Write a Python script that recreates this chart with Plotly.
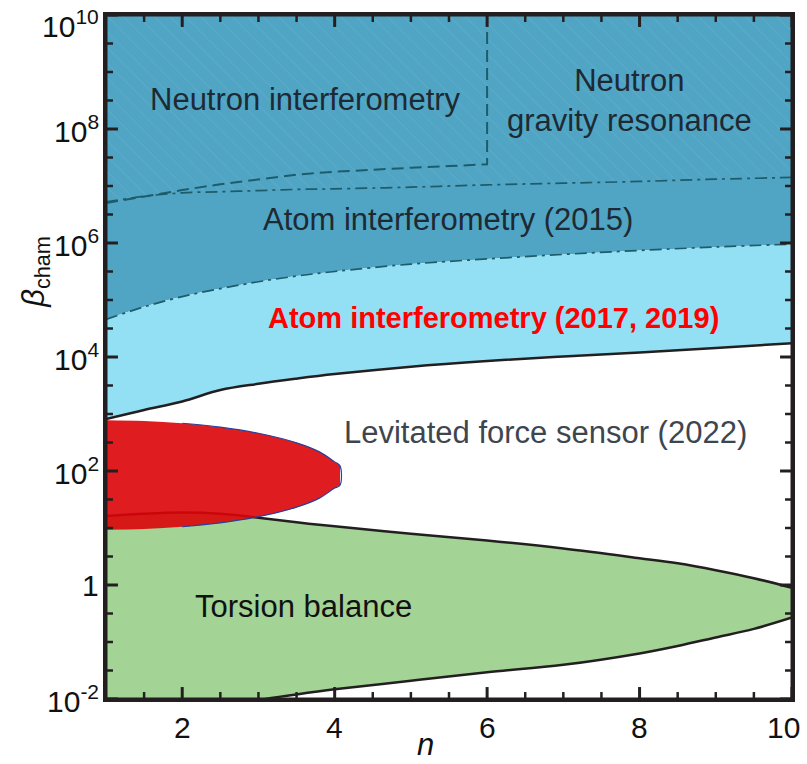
import plotly.graph_objects as go
import numpy as np

# ---- data (beta values given as log10 exponents) ----
n_grid = [1, 1.5, 2, 2.5, 3, 3.5, 4, 5, 6, 7, 8, 9, 10]

# Atom interferometry (2017, 2019): lower solid bound and upper dash-dot bound
atom17_lower_log10 = [2.91, 3.07, 3.22, 3.42, 3.53, 3.62, 3.70, 3.83, 3.93, 4.01, 4.08, 4.16, 4.24]
atom17_upper_log10 = [4.66, 4.88, 5.06, 5.20, 5.32, 5.42, 5.50, 5.63, 5.72, 5.80, 5.87, 5.93, 5.98]
# Atom interferometry (2015): upper dash-dot bound
atom15_upper_log10 = [6.72, 6.82, 6.88, 6.90, 6.92, 6.94, 6.95, 6.98, 7.02, 7.05, 7.08, 7.12, 7.15]

# Neutron interferometry dashed bound (ends at n = 6, then vertical)
neutron_n = [1, 1.5, 2, 2.5, 3, 3.5, 4, 4.5, 5, 5.5, 6]
neutron_log10 = [6.70, 6.82, 6.93, 7.03, 7.12, 7.20, 7.25, 7.29, 7.32, 7.35, 7.38]

# Torsion balance region
torsion_top_n = [1, 1.5, 2, 2.5, 3, 3.5, 4, 5, 6, 7, 8, 8.5, 9, 9.5, 10]
torsion_top_log10 = [1.21, 1.25, 1.27, 1.25, 1.18, 1.10, 1.03, 0.90, 0.78, 0.64, 0.47, 0.38, 0.26, 0.12, -0.05]
torsion_bot_n = [1, 2, 3, 3.5, 4, 5, 6, 7, 8, 8.5, 9, 9.5, 10]
torsion_bot_log10 = [-2.6, -2.3, -2.02, -1.92, -1.83, -1.68, -1.53, -1.40, -1.20, -1.07, -0.92, -0.77, -0.57]

# Levitated force sensor (2022) excluded region
lev_n = [1, 1.5, 2, 2.5, 3, 3.5, 3.8, 4.0, 4.07]
lev_top_log10 = [2.89, 2.877, 2.838, 2.769, 2.662, 2.494, 2.336, 2.16, 2.09]
lev_bot_log10 = [0.97, 0.983, 1.022, 1.091, 1.198, 1.366, 1.524, 1.70, 1.75]

BETA_MIN_LOG10 = -2
BETA_MAX_LOG10 = 10
N_MIN, N_MAX = 1, 10

# ticks and tick labels
y_major_exp = [-2, 0, 2, 4, 6, 8, 10]
y_major_text = ["10<sup>-2</sup>", "1", "10<sup>2</sup>", "10<sup>4</sup>",
                "10<sup>6</sup>", "10<sup>8</sup>", "10<sup>10</sup>"]
y_minor_exp = [-1.5, -1, -0.5, 0.5, 1, 1.5, 2.5, 3, 3.5, 4.5, 5, 5.5,
               6.5, 7, 7.5, 8.5, 9, 9.5]
x_major = [2, 4, 6, 8, 10]
x_major_text = ["2", "4", "6", "8", "10"]
x_minor = [1.5, 2.5, 3, 3.5, 4.5, 5, 5.5, 6.5, 7, 7.5, 8.5, 9, 9.5]

# ---- styles ----
W, H = 807, 764
MARGIN = dict(l=106, r=12, t=12, b=65)
PLOT_W = W - MARGIN["l"] - MARGIN["r"]
PLOT_H = H - MARGIN["t"] - MARGIN["b"]
C_DARK = "#51a5c4"
C_LIGHT = "#93e0f5"
C_GREEN = "#a3d395"
C_RED = "rgba(220,4,8,0.9)"
C_DASH = "#1d5c6b"
C_EDGE = "#231f20"
C_TICKTEXT = "#111111"
FONT = "Liberation Sans, Arial, sans-serif"
MAJOR_LEN, MINOR_LEN = 12, 7   # tick lengths in pixels


def b(vals):
    return list(np.power(10.0, vals))


top_line = b([BETA_MAX_LOG10] * len(n_grid))

fig = go.Figure()


def add(x, y, **kw):
    kw.setdefault("mode", "lines")
    kw.setdefault("hoverinfo", "skip")
    kw.setdefault("showlegend", False)
    fig.add_trace(go.Scatter(x=x, y=y, **kw))


# dark-blue excluded region (atom 2015 + neutron)
add(n_grid, b(atom17_upper_log10), line=dict(width=0, shape="spline"))
add(n_grid, top_line, line=dict(width=0, shape="spline"), fill="tonexty", fillcolor=C_DARK)

# light-blue region (atom interferometry 2017, 2019)
add(n_grid, b(atom17_lower_log10), line=dict(width=0, shape="spline"))
add(n_grid, b(atom17_upper_log10), line=dict(width=0, shape="spline"), fill="tonexty", fillcolor=C_LIGHT)

# green region (torsion balance)
add(torsion_bot_n, b(torsion_bot_log10), line=dict(width=0, shape="spline"))
add(torsion_top_n, b(torsion_top_log10), line=dict(width=0, shape="spline"), fill="tonexty", fillcolor=C_GREEN)

# hatched neutron band
add(n_grid, b(atom15_upper_log10), line=dict(width=0, shape="spline"))
add(n_grid, top_line, line=dict(width=0, shape="spline"), fill="tonexty",
    fillcolor="rgba(0,0,0,0)",
    fillpattern=dict(shape="\\", fgcolor="rgba(200,232,242,0.35)", bgcolor="rgba(0,0,0,0)",
                     size=11, solidity=0.06, fillmode="overlay"))

# boundary lines
add(n_grid, b(atom17_lower_log10), line=dict(color=C_EDGE, width=2.5, shape="spline"))
add(torsion_top_n, b(torsion_top_log10), line=dict(color=C_EDGE, width=2.5, shape="spline"))
add(torsion_bot_n, b(torsion_bot_log10), line=dict(color=C_EDGE, width=2.5, shape="spline"))
add(n_grid, b(atom17_upper_log10), line=dict(color=C_DASH, width=1.7, shape="spline", dash="12px,5px,3px,5px"))
add(n_grid, b(atom15_upper_log10), line=dict(color=C_DASH, width=1.7, shape="spline", dash="12px,5px,3px,5px"))
add(neutron_n + [neutron_n[-1]], b(neutron_log10 + [BETA_MAX_LOG10]),
    line=dict(color=C_DASH, width=2, shape="linear", dash="12px,6px"))

# levitated force sensor region
add(lev_n, b(lev_bot_log10), line=dict(width=0, shape="spline"))
add(lev_n, b(lev_top_log10), line=dict(width=0, shape="spline"), fill="tonexty", fillcolor=C_RED)
arc_n = lev_n[2:] + lev_n[2:][::-1]
arc_y = lev_top_log10[2:] + lev_bot_log10[2:][::-1]
add(arc_n, b(arc_y), line=dict(color="#2a3f9a", width=1.2, shape="spline"))

# ---- inward ticks on all four sides, drawn as a trace on top ----
n_per_px = (N_MAX - N_MIN) / PLOT_W
dec_per_px = (BETA_MAX_LOG10 - BETA_MIN_LOG10) / PLOT_H


def tick_segments(length_px, xs, ys_exp):
    tx, ty = [], []
    dx = length_px * n_per_px
    de = length_px * dec_per_px
    for v in xs:
        tx += [v, v, None, v, v, None]
        ty += [10 ** BETA_MIN_LOG10, 10 ** (BETA_MIN_LOG10 + de), None,
               10 ** BETA_MAX_LOG10, 10 ** (BETA_MAX_LOG10 - de), None]
    for e in ys_exp:
        tx += [N_MIN, N_MIN + dx, None, N_MAX, N_MAX - dx, None]
        ty += [10 ** e, 10 ** e, None, 10 ** e, 10 ** e, None]
    return tx, ty


mx, my = tick_segments(MAJOR_LEN, x_major, y_major_exp)
add(mx, my, line=dict(color=C_EDGE, width=3), connectgaps=False)
nx, ny = tick_segments(MINOR_LEN, x_minor, y_minor_exp)
add(nx, ny, line=dict(color=C_EDGE, width=2.5), connectgaps=False)

# plot frame
add([N_MIN, N_MAX, N_MAX, N_MIN, N_MIN],
    b([BETA_MIN_LOG10, BETA_MIN_LOG10, BETA_MAX_LOG10, BETA_MAX_LOG10, BETA_MIN_LOG10]),
    line=dict(color=C_EDGE, width=3))

# ---- tick labels (edge labels nudged inside the canvas) ----
for e, txt in zip(y_major_exp, y_major_text):
    fig.add_annotation(x=0, xref="paper", y=e, yref="y", text=txt, showarrow=False,
                       xanchor="right", yanchor="middle", xshift=-5,
                       yshift=-9 if e == BETA_MAX_LOG10 else 0,
                       font=dict(family=FONT, size=30, color=C_TICKTEXT))
for v, txt in zip(x_major, x_major_text):
    fig.add_annotation(x=v, xref="x", y=0, yref="paper", text=txt, showarrow=False,
                       xanchor="center", yanchor="middle", yshift=-28,
                       xshift=-9 if v == N_MAX else 0,
                       font=dict(family=FONT, size=30, color=C_TICKTEXT))


# ---- region labels ----
def label(text, x, ylog, size=31, color="#222222"):
    fig.add_annotation(x=x, y=ylog, xref="x", yref="y", text=text, showarrow=False,
                       font=dict(family=FONT, size=size, color=color),
                       xanchor="center", yanchor="middle")


label("Neutron interferometry", 3.62, 8.52, color="#1e2a33")
label("Neutron<br>gravity resonance", 7.87, 8.50, color="#1e2a33")
label("Atom interferometry (2015)", 5.49, 6.42, color="#1e2a33")
label("<b>Atom interferometry (2017, 2019)</b>", 6.08, 4.69, size=29, color="#ff0000")
label("Levitated force sensor (2022)", 6.77, 2.68, color="#3d4650")
label("Torsion balance", 3.59, -0.38, color="#111111")

fig.add_annotation(x=-0.103, y=0.625, xref="paper", yref="paper",
                   text="<i>β</i><sub>cham</sub>", showarrow=False, textangle=-90,
                   font=dict(family=FONT, size=31, color="#111111"),
                   xanchor="center", yanchor="middle")
fig.add_annotation(x=0.466, y=-0.067, xref="paper", yref="paper",
                   text="<i>n</i>", showarrow=False,
                   font=dict(family=FONT, size=31, color="#111111"),
                   xanchor="center", yanchor="middle")

axis_common = dict(showline=True, linewidth=3, linecolor=C_EDGE, mirror=True,
                   ticks="", showticklabels=False, showgrid=False, zeroline=False)

fig.update_layout(
    width=W, height=H,
    margin=MARGIN,
    paper_bgcolor="white", plot_bgcolor="white",
    xaxis=dict(range=[N_MIN, N_MAX], **axis_common),
    yaxis=dict(type="log", range=[BETA_MIN_LOG10, BETA_MAX_LOG10], **axis_common),
)

fig.write_html("out.html")
